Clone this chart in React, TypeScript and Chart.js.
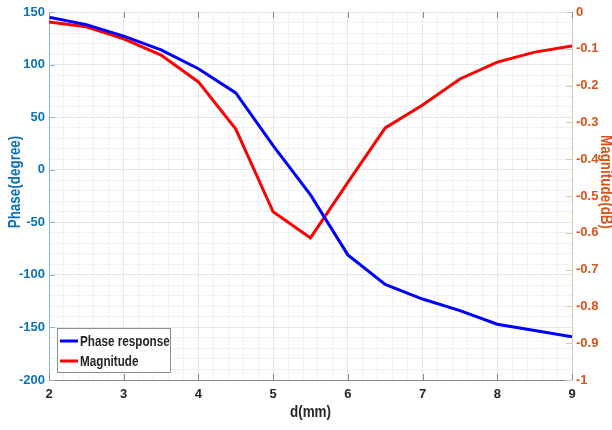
import React, { useEffect, useRef } from "react";
import { Chart, registerables } from "chart.js";

Chart.register(...registerables);

const dValues = [2, 2.5, 3, 3.5, 4, 4.5, 5, 5.5, 6, 6.5, 7, 7.5, 8, 8.5, 9];
const phaseValues = [145, 138, 127, 114, 96, 73, 23, -24, -81, -109, -123, -134, -147, -153, -159];
const magnitudeValues = [-0.027, -0.04, -0.073, -0.117, -0.19, -0.318, -0.543, -0.614, -0.463, -0.315, -0.253, -0.182, -0.136, -0.109, -0.092];
const xTickLabels = ["2", "3", "4", "5", "6", "7", "8", "9"];
const phaseTickLabels = ["150", "100", "50", "0", "-50", "-100", "-150", "-200"];
const magTickLabels = ["0", "-0.1", "-0.2", "-0.3", "-0.4", "-0.5", "-0.6", "-0.7", "-0.8", "-0.9", "-1"];

const FONT = "'Liberation Sans', Arial, sans-serif";
const BLUE_TXT = "#0a72b8";
const ORANGE_TXT = "#d95319";
const DARK = "#262626";

const isInt = (v: number) => Math.abs(v - Math.round(v)) < 1e-6;
const isMult = (v: number, m: number) => Math.abs(v / m - Math.round(v / m)) < 1e-6;

function condensedText(ctx: any, text: string, x: number, y: number, rot: number, sx: number) {
  ctx.save();
  ctx.translate(x, y);
  ctx.rotate(rot);
  ctx.scale(sx, 1);
  ctx.fillText(text, 0, 0);
  ctx.restore();
}

const extrasPlugin = {
  id: "extras",
  afterDraw(chart: any) {
    const ctx = chart.ctx;
    const area = chart.chartArea;
    const x = chart.scales.x;
    const y = chart.scales.y;
    const y1 = chart.scales.y1;
    ctx.save();
    // inward tick marks
    ctx.lineWidth = 1;
    ctx.strokeStyle = "#8a8a8a";
    xTickLabels.forEach((t) => {
      const px = Math.round(x.getPixelForValue(Number(t))) + 0.5;
      ctx.beginPath();
      ctx.moveTo(px, area.bottom);
      ctx.lineTo(px, area.bottom - 6);
      ctx.moveTo(px, area.top);
      ctx.lineTo(px, area.top + 6);
      ctx.stroke();
    });
    ctx.strokeStyle = "#8fb7d3";
    phaseTickLabels.forEach((t) => {
      const py = Math.round(y.getPixelForValue(Number(t))) + 0.5;
      ctx.beginPath();
      ctx.moveTo(area.left, py);
      ctx.lineTo(area.left + 6, py);
      ctx.stroke();
    });
    ctx.strokeStyle = "#dcc6b0";
    magTickLabels.forEach((t) => {
      const py = Math.round(y1.getPixelForValue(Number(t))) + 0.5;
      ctx.beginPath();
      ctx.moveTo(area.right, py);
      ctx.lineTo(area.right - 6, py);
      ctx.stroke();
    });

    // axis titles
    const cy = (area.top + area.bottom) / 2 - 14;
    ctx.font = `bold 16px ${FONT}`;
    ctx.textAlign = "center";
    ctx.textBaseline = "middle";
    ctx.fillStyle = BLUE_TXT;
    condensedText(ctx, "Phase(degree)", 16, cy, -Math.PI / 2, 0.84);
    ctx.fillStyle = ORANGE_TXT;
    condensedText(ctx, "Magnitude(dB)", 605, cy, Math.PI / 2, 0.84);
    ctx.fillStyle = DARK;
    condensedText(ctx, "d(mm)", (area.left + area.right) / 2, 413, 0, 0.84);

    // legend
    const lx = area.left + 8;
    const ly = 328;
    const lw = 113;
    const lh = 44;
    ctx.fillStyle = "#ffffff";
    ctx.fillRect(lx, ly, lw, lh);
    ctx.strokeStyle = "#8c8c8c";
    ctx.lineWidth = 1;
    ctx.strokeRect(lx + 0.5, ly + 0.5, lw, lh);
    ctx.font = `bold 15px ${FONT}`;
    ctx.textAlign = "left";
    chart.data.datasets.forEach((ds: any, i: number) => {
      const rowY = ly + 13 + i * 20;
      ctx.strokeStyle = ds.borderColor;
      ctx.lineWidth = 3;
      ctx.beginPath();
      ctx.moveTo(lx + 3, rowY);
      ctx.lineTo(lx + 21, rowY);
      ctx.stroke();
      ctx.fillStyle = DARK;
      condensedText(ctx, ds.label, lx + 23, rowY + 1, 0, 0.78);
    });
    ctx.restore();
  },
};

export default function App() {
  const ref = useRef<HTMLCanvasElement>(null);
  useEffect(() => {
    document.body.style.margin = "0";
    const canvas = ref.current!;
    const chart = new Chart(canvas, {
      type: "line",
      data: {
        datasets: [
          {
            label: "Phase response",
            data: dValues.map((d, i) => ({ x: d, y: phaseValues[i] })),
            borderColor: "#0000ff",
            borderWidth: 3,
            pointRadius: 0,
            yAxisID: "y",
            tension: 0,
          },
          {
            label: "Magnitude",
            data: dValues.map((d, i) => ({ x: d, y: magnitudeValues[i] })),
            borderColor: "#ff0000",
            borderWidth: 3,
            pointRadius: 0,
            yAxisID: "y1",
            tension: 0,
          },
        ],
      },
      options: {
        animation: false,
        responsive: false,
        maintainAspectRatio: false,
        layout: { padding: { top: 12, left: 0, right: 0, bottom: 0 } },
        plugins: { legend: { display: false }, tooltip: { enabled: false } },
        scales: {
          x: {
            type: "linear",
            min: 2,
            max: 9,
            afterFit: (s: any) => { s.height = 50; },
            afterBuildTicks: (s: any) => {
              const ticks = [];
              for (let k = 0; k <= 35; k++) ticks.push({ value: 2 + k * 0.2 });
              s.ticks = ticks;
            },
            ticks: {
              autoSkip: false,
              maxRotation: 0,
              padding: 7,
              color: DARK,
              font: { family: FONT, size: 13, weight: "bold" },
              callback: (v: any) => (isInt(Number(v)) && xTickLabels.includes(String(Math.round(Number(v)))) ? String(Math.round(Number(v))) : ""),
            },
            grid: {
              drawTicks: false,
              color: (c: any) => (isMult(c.tick.value, 0.5) ? "#e2e7eb" : "#eff2f4"),
              lineWidth: 1,
            },
            border: { color: "#8a8a8a", width: 1 },
          },
          y: {
            type: "linear",
            position: "left",
            min: -200,
            max: 150,
            afterFit: (s: any) => { s.width = 49; },
            ticks: {
              stepSize: 10,
              autoSkip: false,
              padding: 4,
              color: BLUE_TXT,
              font: { family: FONT, size: 13, weight: "bold" },
              callback: (v: any) => (phaseTickLabels.includes(String(v)) ? String(v) : ""),
            },
            grid: {
              drawTicks: false,
              color: (c: any) => (isMult(c.tick.value, 50) ? "#e2e7eb" : "#eff2f4"),
              lineWidth: 1,
            },
            border: { color: "#8fb7d3", width: 1 },
          },
          y1: {
            type: "linear",
            position: "right",
            min: -1,
            max: 0,
            afterFit: (s: any) => { s.width = 40; },
            ticks: {
              stepSize: 0.1,
              autoSkip: false,
              padding: 4,
              color: ORANGE_TXT,
              font: { family: FONT, size: 13, weight: "bold" },
              callback: (v: any) => {
                const r = Math.round(Number(v) * 10) / 10;
                const s = r === 0 ? "0" : String(r);
                return magTickLabels.includes(s) ? s : "";
              },
            },
            grid: { display: false, drawTicks: false },
            border: { color: "#dcc6b0", width: 1 },
          },
        },
      },
      plugins: [extrasPlugin],
    });
    return () => chart.destroy();
  }, []);
  return (
    <div style={{ position: "relative", width: 612, height: 430, background: "#fff" }}>
      <canvas ref={ref} width={612} height={430} style={{ display: "block" }} />
    </div>
  );
}
